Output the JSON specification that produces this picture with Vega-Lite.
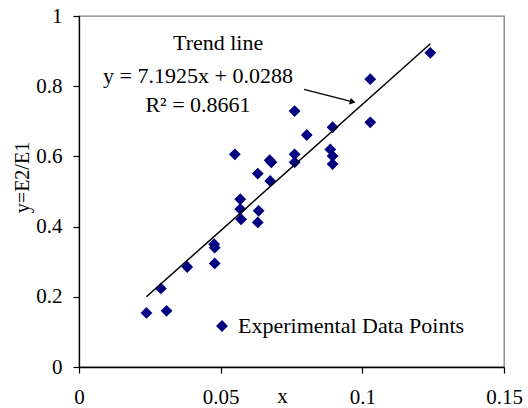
{
  "$schema": "https://vega.github.io/schema/vega-lite/v6.json",
  "width": 425,
  "height": 351,
  "autosize": "none",
  "padding": {"left": 79, "top": 16, "right": 24, "bottom": 41},
  "background": "white",
  "view": {"stroke": "#808080", "strokeWidth": 1.3},
  "config": {
    "font": "Liberation Serif",
    "axis": {
      "grid": false,
      "domainColor": "black",
      "domainWidth": 1.3,
      "tickColor": "black",
      "tickWidth": 1.2,
      "tickSize": 6,
      "labelFont": "Liberation Serif",
      "labelFontSize": 21,
      "labelColor": "black",
      "labelLimit": 0,
      "titleFont": "Liberation Serif",
      "titleFontWeight": "normal",
      "titleColor": "black"
    },
    "legend": {"padding": 0}
  },
  "encoding": {
    "x": {
      "field": "x",
      "type": "quantitative",
      "scale": {"domain": [0, 0.15], "nice": false, "zero": false},
      "axis": {
        "values": [0, 0.05, 0.1, 0.15],
        "labelExpr": "datum.value > 0.12 ? '0.15' : datum.value > 0.07 ? '0.1' : datum.value > 0.02 ? '0.05' : '0'",
        "labelPadding": 13,
        "labelFlush": false,
        "labelOverlap": false,
        "title": "x",
        "titleFontSize": 21,
        "titleX": 203,
        "titleY": 35,
        "titleBaseline": "alphabetic",
        "titleAlign": "center",
        "titleAnchor": null
      }
    },
    "y": {
      "field": "y",
      "type": "quantitative",
      "scale": {"domain": [0, 1], "nice": false, "zero": false},
      "axis": {
        "values": [0, 0.2, 0.4, 0.6, 0.8, 1],
        "format": "~g",
        "labelPadding": 11,
        "labelFlush": false,
        "labelOverlap": false,
        "title": "y=E2/E1",
        "titleFontSize": 20,
        "titleAngle": -90,
        "titleX": -57,
        "titleY": 161,
        "titleBaseline": "middle",
        "titleAlign": "center",
        "titleAnchor": null
      }
    }
  },
  "layer": [
    {
      "data": {"values": [
        {"x": 0.0238, "y": 0.154, "series": "Experimental Data Points"},
        {"x": 0.0289, "y": 0.224, "series": "Experimental Data Points"},
        {"x": 0.0309, "y": 0.160, "series": "Experimental Data Points"},
        {"x": 0.0382, "y": 0.285, "series": "Experimental Data Points"},
        {"x": 0.0477, "y": 0.350, "series": "Experimental Data Points"},
        {"x": 0.0479, "y": 0.340, "series": "Experimental Data Points"},
        {"x": 0.0479, "y": 0.295, "series": "Experimental Data Points"},
        {"x": 0.0550, "y": 0.606, "series": "Experimental Data Points"},
        {"x": 0.0569, "y": 0.478, "series": "Experimental Data Points"},
        {"x": 0.0569, "y": 0.450, "series": "Experimental Data Points"},
        {"x": 0.0572, "y": 0.421, "series": "Experimental Data Points"},
        {"x": 0.0631, "y": 0.551, "series": "Experimental Data Points"},
        {"x": 0.0634, "y": 0.445, "series": "Experimental Data Points"},
        {"x": 0.0631, "y": 0.412, "series": "Experimental Data Points"},
        {"x": 0.0673, "y": 0.589, "series": "Experimental Data Points"},
        {"x": 0.0679, "y": 0.583, "series": "Experimental Data Points"},
        {"x": 0.0675, "y": 0.530, "series": "Experimental Data Points"},
        {"x": 0.0761, "y": 0.729, "series": "Experimental Data Points"},
        {"x": 0.0761, "y": 0.606, "series": "Experimental Data Points"},
        {"x": 0.0761, "y": 0.583, "series": "Experimental Data Points"},
        {"x": 0.0804, "y": 0.661, "series": "Experimental Data Points"},
        {"x": 0.0895, "y": 0.683, "series": "Experimental Data Points"},
        {"x": 0.0887, "y": 0.620, "series": "Experimental Data Points"},
        {"x": 0.0895, "y": 0.601, "series": "Experimental Data Points"},
        {"x": 0.0895, "y": 0.578, "series": "Experimental Data Points"},
        {"x": 0.1028, "y": 0.820, "series": "Experimental Data Points"},
        {"x": 0.1028, "y": 0.697, "series": "Experimental Data Points"},
        {"x": 0.1240, "y": 0.895, "series": "Experimental Data Points"}
      ]},
      "mark": {"type": "point", "shape": "diamond", "filled": true, "size": 140, "opacity": 1},
      "encoding": {
        "color": {
          "field": "series",
          "type": "nominal",
          "scale": {"domain": ["Experimental Data Points"], "range": ["#000080"]},
          "legend": {
            "title": null,
            "orient": "none",
            "legendX": 132,
            "legendY": 299,
            "symbolType": "diamond",
            "symbolSize": 140,
            "symbolOpacity": 1,
            "symbolStrokeWidth": 0,
            "labelFont": "Liberation Serif",
            "labelFontSize": 22,
            "labelColor": "black",
            "labelLimit": 0,
            "labelOffset": 5
          }
        }
      }
    },
    {
      "data": {"values": [
        {"x": 0.0238, "y": 0.200},
        {"x": 0.1240, "y": 0.921}
      ]},
      "mark": {"type": "line", "color": "black", "strokeWidth": 1.5},
      "encoding": {}
    },
    {
      "data": {"values": [
        {"x": 0.0794, "y": 0.791, "x2": 0.0970, "y2": 0.7545}
      ]},
      "mark": {"type": "rule", "color": "black", "strokeWidth": 1.2},
      "encoding": {
        "x2": {"field": "x2"},
        "y2": {"field": "y2"}
      }
    },
    {
      "data": {"values": [
        {"x": 0.0966, "y": 0.7553}
      ]},
      "mark": {"type": "point", "shape": "triangle-right", "filled": true, "color": "black", "size": 45, "angle": 14.5, "opacity": 1},
      "encoding": {}
    },
    {
      "data": {"values": [
        {"x": 0.0491, "y": 0.922, "label": "Trend line"},
        {"x": 0.0420, "y": 0.829, "label": "y = 7.1925x + 0.0288"},
        {"x": 0.0420, "y": 0.746, "label": "R² = 0.8661"}
      ]},
      "mark": {"type": "text", "font": "Liberation Serif", "fontSize": 22, "color": "black", "align": "center", "baseline": "middle"},
      "encoding": {
        "text": {"field": "label"}
      }
    }
  ]
}
